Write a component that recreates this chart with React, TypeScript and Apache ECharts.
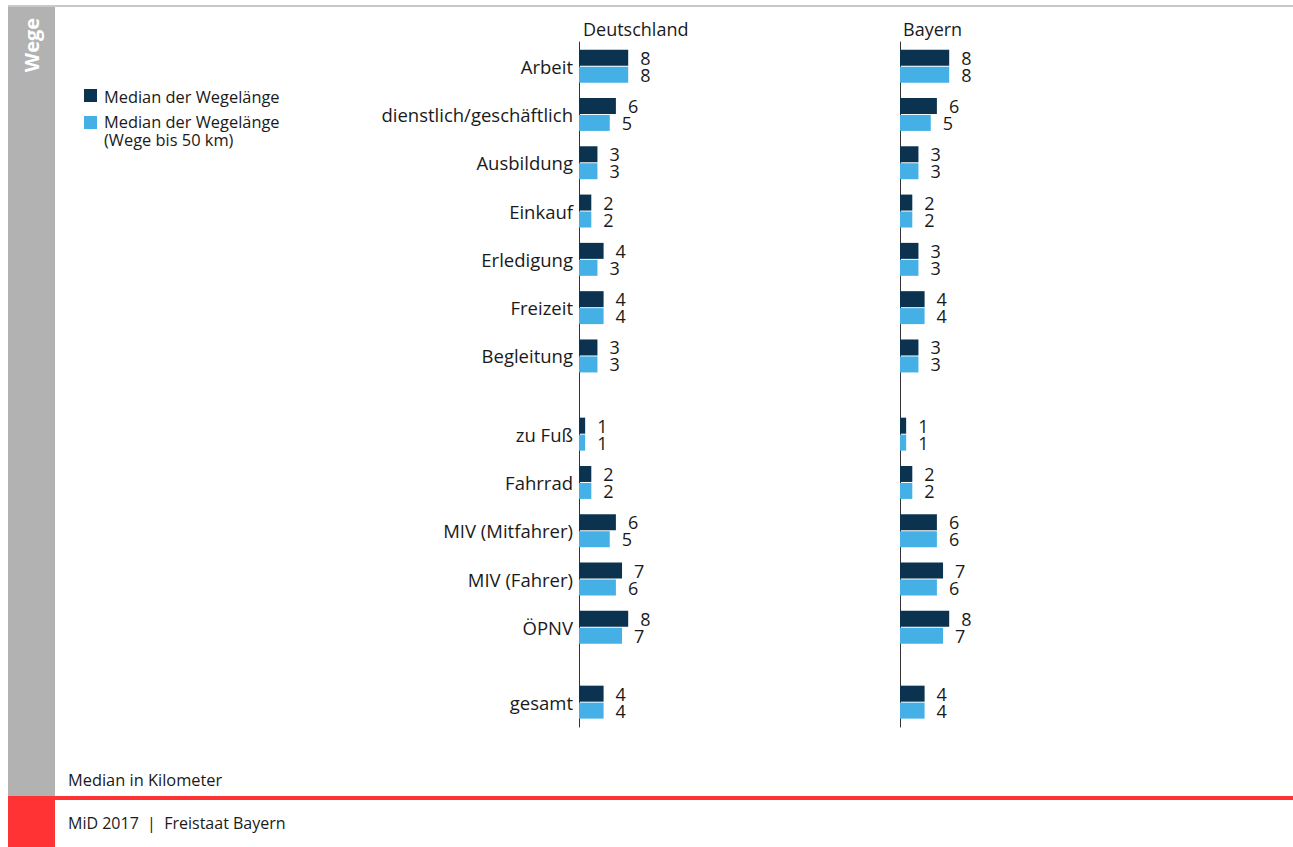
import React, { useEffect, useRef } from "react";
import * as echarts from "echarts";

// Reisezwecke, Verkehrsmittel und Gesamtwert
const purposeCats = ["Arbeit", "dienstlich/geschäftlich", "Ausbildung", "Einkauf", "Erledigung", "Freizeit", "Begleitung"];
const modeCats = ["zu Fuß", "Fahrrad", "MIV (Mitfahrer)", "MIV (Fahrer)", "ÖPNV"];
const totalCats = ["gesamt"];

// Median der Wegelänge in km – Deutschland
const dePurposeAll = [8, 6, 3, 2, 4, 4, 3];
const dePurpose50 = [8, 5, 3, 2, 3, 4, 3];
const deModeAll = [1, 2, 6, 7, 8];
const deMode50 = [1, 2, 5, 6, 7];
const deTotalAll = [4];
const deTotal50 = [4];

// Median der Wegelänge in km – Bayern
const byPurposeAll = [8, 6, 3, 2, 3, 4, 3];
const byPurpose50 = [8, 5, 3, 2, 3, 4, 3];
const byModeAll = [1, 2, 6, 7, 8];
const byMode50 = [1, 2, 6, 6, 7];
const byTotalAll = [4];
const byTotal50 = [4];

const seriesNames = ["Median der Wegelänge", "Median der Wegelänge (Wege bis 50 km)"];
const panelTitles = ["Deutschland", "Bayern"];

const DARK = "#0b3350";
const LIGHT = "#45b0e6";
const TEXT = "#1a1a1a";
const FONT = "'Open Sans', 'Noto Sans', sans-serif";

export default function App() {
  const ref = useRef<HTMLDivElement>(null);

  useEffect(() => {
    document.body.style.margin = "0";
    if (!ref.current) return;
    const chart = echarts.init(ref.current, null, { renderer: "svg" });

    const rowH = 48.3;
    const groups = [
      { cats: purposeCats, top: 42 },
      { cats: modeCats, top: 410 },
      { cats: totalCats, top: 678 },
    ];
    const panels = [
      { left: 579, showLabels: true, data: [[dePurposeAll, dePurpose50], [deModeAll, deMode50], [deTotalAll, deTotal50]] },
      { left: 900, showLabels: false, data: [[byPurposeAll, byPurpose50], [byModeAll, byMode50], [byTotalAll, byTotal50]] },
    ];
    const axisW = 123;
    const axisMax = 20;

    const grid: any[] = [];
    const xAxis: any[] = [];
    const yAxis: any[] = [];
    const series: any[] = [];

    panels.forEach((p) => {
      groups.forEach((g, gi) => {
        const idx = grid.length;
        grid.push({ left: p.left, top: g.top, width: axisW, height: g.cats.length * rowH, containLabel: false });
        xAxis.push({ type: "value", gridIndex: idx, min: 0, max: axisMax, show: false });
        yAxis.push({
          type: "category",
          gridIndex: idx,
          data: g.cats,
          inverse: true,
          axisLine: { show: false },
          axisTick: { show: false },
          axisLabel: { show: p.showLabels, margin: 6, fontSize: 18.5, color: TEXT, fontFamily: FONT, padding: [0, 0, 4, 0] },
        });
        [0, 1].forEach((si) => {
          series.push({
            type: "bar",
            name: seriesNames[si],
            xAxisIndex: idx,
            yAxisIndex: idx,
            data: p.data[gi][si],
            barWidth: 16,
            barGap: "6%",
            itemStyle: { color: si === 0 ? DARK : LIGHT },
            label: {
              show: true,
              position: "right",
              distance: 12,
              fontSize: 18,
              lineHeight: 16,
              color: TEXT,
              fontFamily: FONT,
            },
          });
        });
      });
      // continuous vertical axis line for the panel
      const idx = grid.length;
      grid.push({ left: p.left, top: 42, width: axisW, height: 685 });
      xAxis.push({ type: "value", gridIndex: idx, min: 0, max: axisMax, show: false });
      yAxis.push({
        type: "category",
        gridIndex: idx,
        data: [""],
        axisLine: { show: true, lineStyle: { color: "#333", width: 1 } },
        axisTick: { show: false },
        axisLabel: { show: false },
      });
    });

    const txt = (text: string, x: number, y: number, extra: any = {}) => ({
      type: "text",
      x,
      y,
      style: { text, fill: TEXT, fontSize: 16.4, fontFamily: FONT, verticalAlign: "middle", ...extra },
    });

    const titleStyle = { fontSize: 18, fontWeight: "normal", color: TEXT, fontFamily: FONT };

    chart.setOption({
      animation: false,
      title: [
        { text: panelTitles[0], left: 578, top: 15, textStyle: titleStyle },
        { text: panelTitles[1], left: 898, top: 15, textStyle: titleStyle },
      ],
      grid,
      xAxis,
      yAxis,
      series,
      graphic: [
        // frame
        { type: "rect", shape: { x: 8, y: 5, width: 1285, height: 2 }, style: { fill: "#c8c8c8" } },
        { type: "rect", shape: { x: 8, y: 7, width: 47, height: 789 }, style: { fill: "#b2b2b2" } },
        { type: "rect", shape: { x: 8, y: 796, width: 47, height: 51 }, style: { fill: "#ff3333" } },
        { type: "rect", shape: { x: 55, y: 796, width: 1238, height: 4 }, style: { fill: "#ff3333" } },
        {
          type: "text",
          x: 31,
          y: 45,
          rotation: Math.PI / 2,
          style: { text: "Wege", fill: "#fff", fontSize: 20, fontWeight: "bold", fontFamily: FONT, align: "center", verticalAlign: "middle" },
        },
        // legend
        { type: "rect", shape: { x: 84, y: 89, width: 13, height: 13 }, style: { fill: DARK } },
        txt("Median der Wegelänge", 104, 96),
        { type: "rect", shape: { x: 84, y: 116, width: 13, height: 13 }, style: { fill: LIGHT } },
        txt("Median der Wegelänge\n(Wege bis 50 km)", 104, 130, { lineHeight: 18 }),
        // notes
        txt("Median in Kilometer", 68, 779),
        txt("MiD 2017  |  Freistaat Bayern", 68, 823, { fontSize: 16 }),
      ],
    });

    return () => chart.dispose();
  }, []);

  return <div ref={ref} style={{ width: 1293, height: 847 }} />;
}
